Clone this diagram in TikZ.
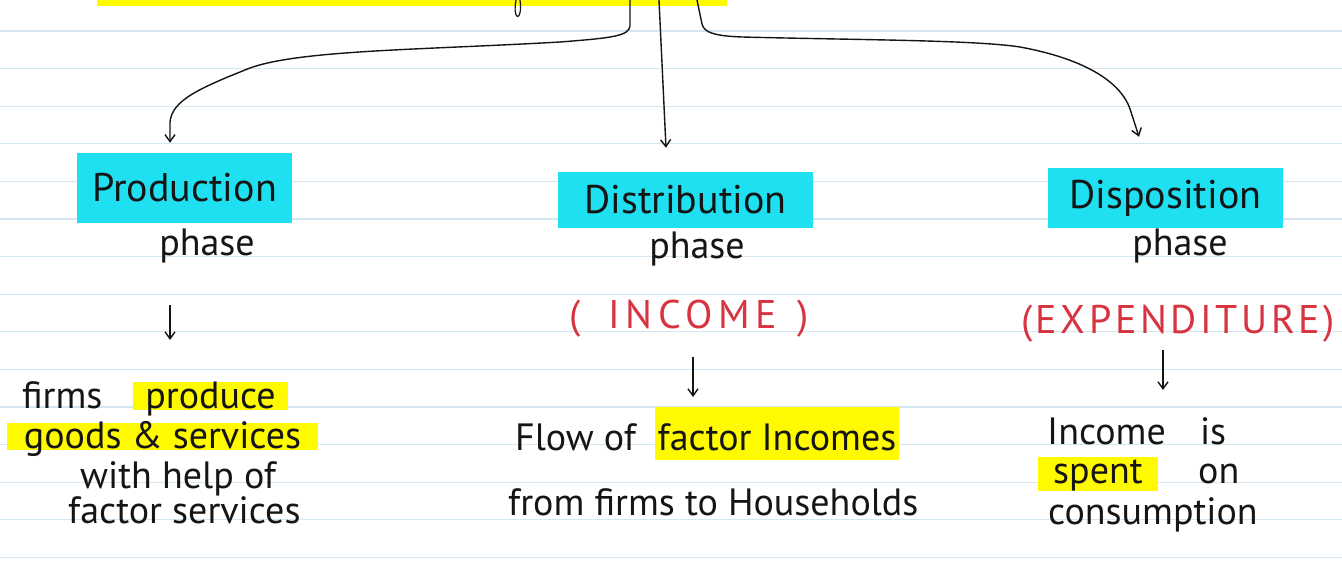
\documentclass[tikz,border=0pt]{standalone}
\usepackage{fontspec}
\setmainfont{PT Sans}
\newfontfamily\capsfont[LetterSpace=14]{PT Sans}
\usetikzlibrary{arrows.meta,positioning}
\definecolor{ruleblue}{HTML}{D3E6F2}
\definecolor{phcyan}{HTML}{1EE0F0}
\definecolor{hlyellow}{HTML}{FFFA00}
\definecolor{inkred}{HTML}{D8343F}
\definecolor{inkblack}{HTML}{151515}
\newcommand{\headfont}{\fontsize{40}{46}\selectfont}
\newcommand{\bodyfont}{\fontsize{38}{42}\selectfont}
\tikzset{
  rule/.style={ruleblue,line width=1.2pt},
  phasebox/.style={fill=phcyan,inner sep=0pt,font=\headfont,text=inkblack},
  txt/.style={inner sep=0pt,font=\bodyfont,text=inkblack},
  redtxt/.style={inner sep=0pt,font=\capsfont\fontsize{40}{46}\selectfont,text=inkred},
  hl/.style={txt,fill=hlyellow,inner xsep=0pt,inner ysep=2pt},
  arr/.style={inkblack,line width=1.4pt,-{Straight Barb[length=7pt,width=10pt]}}
}

\begin{document}
\begin{tikzpicture}[x=1pt,y=-1pt]
    \useasboundingbox (0,0) rectangle (1342,567);
    \fill[white] (0,0) rectangle (1342,567);
    % ruled paper
    \foreach \i in {0,...,14}
      \draw[rule] (0,{31+37.6*\i}) -- (1342,{31+37.6*\i});

    % bottom edge of the (cut off) title highlight
    \fill[hlyellow] (97,0) rectangle (727,6);
    \draw[inkblack,line width=1.2pt] (516,0) .. controls (512,22) and (523,22) .. (520,0);
    \coordinate (srcL) at (630,0);
    \coordinate (srcM) at (659,0);
    \coordinate (srcR) at (697,0);

    % the three phases
    \node[phasebox,minimum width=215pt,minimum height=70pt] (prod) at (184.5,188) {Production};
    \node[phasebox,minimum width=255pt,minimum height=56pt] (dist) at (685.5,200) {Distribution};
    \node[phasebox,minimum width=235pt,minimum height=60pt] (disp) at (1165.5,198) {Disposition};

    \node[txt,anchor=base] (prodph) at (207,255) {phase};
    \node[txt,anchor=base] (distph) at (697,258) {phase};
    \node[txt,anchor=base] (dispph) at (1180,255) {phase};

    \node[redtxt,anchor=base] (distinc) at (689,328) {(\hspace{28pt}INCOME\hspace{20pt})};
    \node[redtxt,anchor=base] (dispexp) at (1178,333) {\addfontfeature{LetterSpace=9}(EXPENDITURE)};

    % production text
    \node[txt,anchor=base west] (prodl1) at (22,408) {firms};
    \node[hl,anchor=base,minimum width=155pt,text height=24pt,text depth=0pt] (prodhl1) at (210.5,408) {produce};
    \node[hl,anchor=base,minimum width=311pt,text height=23pt,text depth=0pt] (prodhl2) at (162.5,448) {goods \& services};
    \node[txt,anchor=base west] (prodl3) at (80,488) {with help of};
    \node[txt,anchor=base west] (prodl4) at (68,523) {factor services};

    % distribution text
    \node[txt,anchor=base west] (distl1) at (515,450) {Flow of};
    \node[hl,anchor=base,minimum width=244pt,text height=41pt,text depth=8pt] (disthl1) at (777,450) {factor Incomes};
    \node[txt,anchor=base west] (distl2) at (508,515) {from firms to Households};

    % disposition text
    \node[txt,anchor=base west] (displ1) at (1047,444) {Income\hspace{0.9em}is};
    \node[hl,anchor=base,minimum width=120pt,text height=24pt,text depth=6pt] (disphl1) at (1098,483) {spent};
    \node[txt,anchor=base west] (displ2) at (1198,483) {on};
    \node[txt,anchor=base west] (displ3) at (1048,524) {consumption};

    % branches from the title
    \draw[arr] (srcL) -- (630,26) .. controls (629,36) and (612,38) .. (560,42)
      .. controls (420,50) and (300,50) .. (250,68)
      .. controls (200,88) and (172,100) .. (170,122)
      -- ([xshift=-14.5pt,yshift=10pt]prod.north);
    \draw[arr] (srcM) -- ([xshift=-19.5pt,yshift=24pt]dist.north);
    \draw[arr] (srcR) -- (702,24) .. controls (704,33) and (716,36) .. (742,37)
      .. controls (860,40) and (975,40) .. (1020,47)
      .. controls (1080,58) and (1122,80) .. (1131,112)
      -- ([xshift=-26.5pt,yshift=31pt]disp.north);

    % small arrows down to the descriptions
    \draw[arr,shorten <=50pt,shorten >=68pt] (prodph.base -| 170,0) -- (prodl1.base -| 170,0);
    \draw[arr,shorten <=29pt,shorten >=53pt] (distinc.base -| 693,0) -- (distl1.base -| 693,0);
    \draw[arr,shorten <=17pt,shorten >=54pt] (dispexp.base -| 1163,0) -- (displ1.base -| 1163,0);
\end{tikzpicture}
\end{document}
